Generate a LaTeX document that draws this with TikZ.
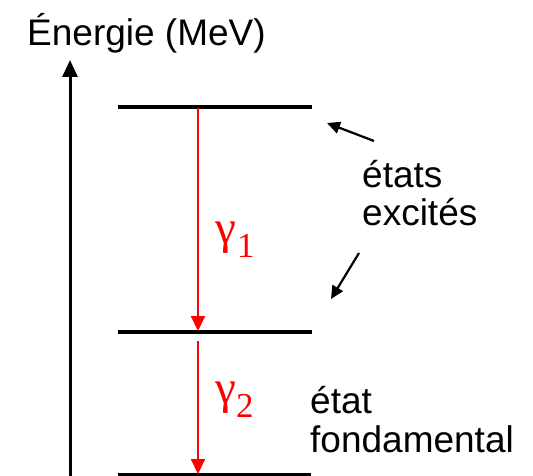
\documentclass[tikz,border=0pt]{standalone}
\usepackage{fontspec}
\setmainfont{Liberation Sans}
\newfontfamily\serifgreek{Liberation Serif}
\usetikzlibrary{arrows.meta}
\begin{document}
\begin{tikzpicture}[x=1pt,y=-1pt,
  level/.style={line width=3.2pt},
  axisarrow/.style={line width=3pt,-{Triangle[length=17pt,width=15pt]}},
  gammaarrow/.style={red,line width=2pt,-{Triangle[length=15pt,width=14pt]}},
  ptr/.style={line width=2.2pt,-{Triangle[length=13pt,width=12pt]}},
  lbl/.style={font=\fontsize{37}{39}\selectfont,inner sep=0pt,anchor=base west},
  glbl/.style={red,font=\serifgreek\fontsize{47}{49}\selectfont,inner sep=0pt,anchor=base west},
  gsub/.style={red,font=\serifgreek\fontsize{35}{37}\selectfont,inner sep=0pt,anchor=base west}]
\useasboundingbox (0,0) rectangle (533,476);
% axis
\coordinate (a0) at (70,478);
\coordinate (a1) at (70,60);
\draw[axisarrow] (a0) -- (a1);
\node[lbl] (title) at (27,46) {Énergie (MeV)};
% levels
\coordinate (l1a) at (118,107); \coordinate (l1b) at (312,107);
\coordinate (l2a) at (118,332); \coordinate (l2b) at (312,332);
\coordinate (l3a) at (118,475); \coordinate (l3b) at (311,475);
\draw[level] (l1a) -- (l1b);
\draw[level] (l2a) -- (l2b);
\draw[level] (l3a) -- (l3b);
% gamma transitions
\coordinate (g1s) at (198,108); \coordinate (g1e) at (198,331);
\coordinate (g2s) at (198,341); \coordinate (g2e) at (198,474);
\draw[gammaarrow] (g1s) -- (g1e);
\draw[gammaarrow] (g2s) -- (g2e);
\node[glbl] (gam1) at (215,243) {γ};
\node[gsub] (sub1) at (237,257) {1};
\node[glbl] (gam2) at (215,403) {γ};
\node[gsub] (sub2) at (236,417) {2};
% labels
\node[lbl] (exc1) at (362,188) {états};
\node[lbl] (exc2) at (362,225) {excités};
\node[lbl] (fon1) at (310,413) {état};
\node[lbl] (fon2) at (310,452) {fondamental};
% pointers
\coordinate (p1s) at (374,141); \coordinate (p1e) at (327,123);
\coordinate (p2s) at (359,253); \coordinate (p2e) at (331,299);
\draw[ptr] (p1s) -- (p1e);
\draw[ptr] (p2s) -- (p2e);
\end{tikzpicture}
\end{document}
